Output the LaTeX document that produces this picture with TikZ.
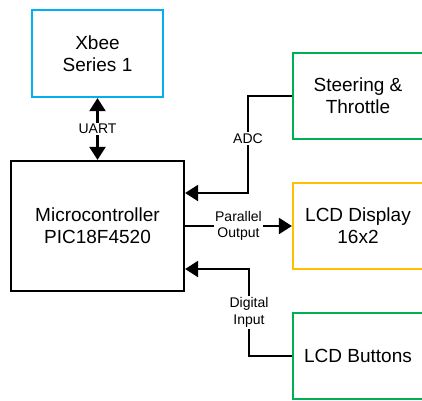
\documentclass[tikz,border=0pt]{standalone}
\usepackage{fontspec}
\setmainfont{Liberation Sans}
\usetikzlibrary{arrows.meta}
\definecolor{xbeeblue}{RGB}{0,176,240}
\definecolor{boxgreen}{RGB}{0,176,80}
\definecolor{lcdorange}{RGB}{255,192,0}

\begin{document}
\begin{tikzpicture}[x=1pt,y=-1pt,
    block/.style={draw,line width=2.2pt,minimum width=130pt,minimum height=86pt,inner sep=0pt,align=center,font=\fontsize{19}{22}\selectfont},
    lbl/.style={fill=white,inner sep=1.5pt,align=center,font=\fontsize{14}{16.5}\selectfont},
    arr/.style={line width=2.2pt,-{Triangle[length=13pt,width=16pt]}},
    dbl/.style={line width=2.2pt,{Triangle[length=13pt,width=16pt]}-{Triangle[length=13pt,width=16pt]}}]
    \useasboundingbox (0,0) rectangle (422,400);
    \clip (0,0) rectangle (422,400);
    % blocks
    \node[block,draw=xbeeblue,minimum width=131pt,minimum height=87pt] (xbee) at (97.5,53.5) {Xbee\\Series 1};
    \node[block,minimum width=173pt,minimum height=130pt] (mcu) at (97.5,226) {Microcontroller\\PIC18F4520};
    \node[block,draw=boxgreen] (steer) at (358,96) {Steering \&\\Throttle};
    \node[block,draw=lcdorange] (disp) at (358,226) {LCD Display\\16x2};
    \node[block,draw=boxgreen] (btn) at (358,356) {LCD Buttons};
    \coordinate (adc) at (248,193);
    \coordinate (dig) at (249,269);
    % connections
    \draw[dbl] (xbee) -- node[lbl]{UART} (mcu);
    \draw[arr] (steer.west) -| node[lbl,pos=0.72]{ADC} (adc) -- (mcu.east |- adc);
    \draw[arr] (mcu.east) -- node[lbl]{Parallel\\Output} (disp.west);
    \draw[arr] (btn.west) -| node[lbl,pos=0.75]{Digital\\Input} (dig) -- (mcu.east |- dig);
\end{tikzpicture}
\end{document}
